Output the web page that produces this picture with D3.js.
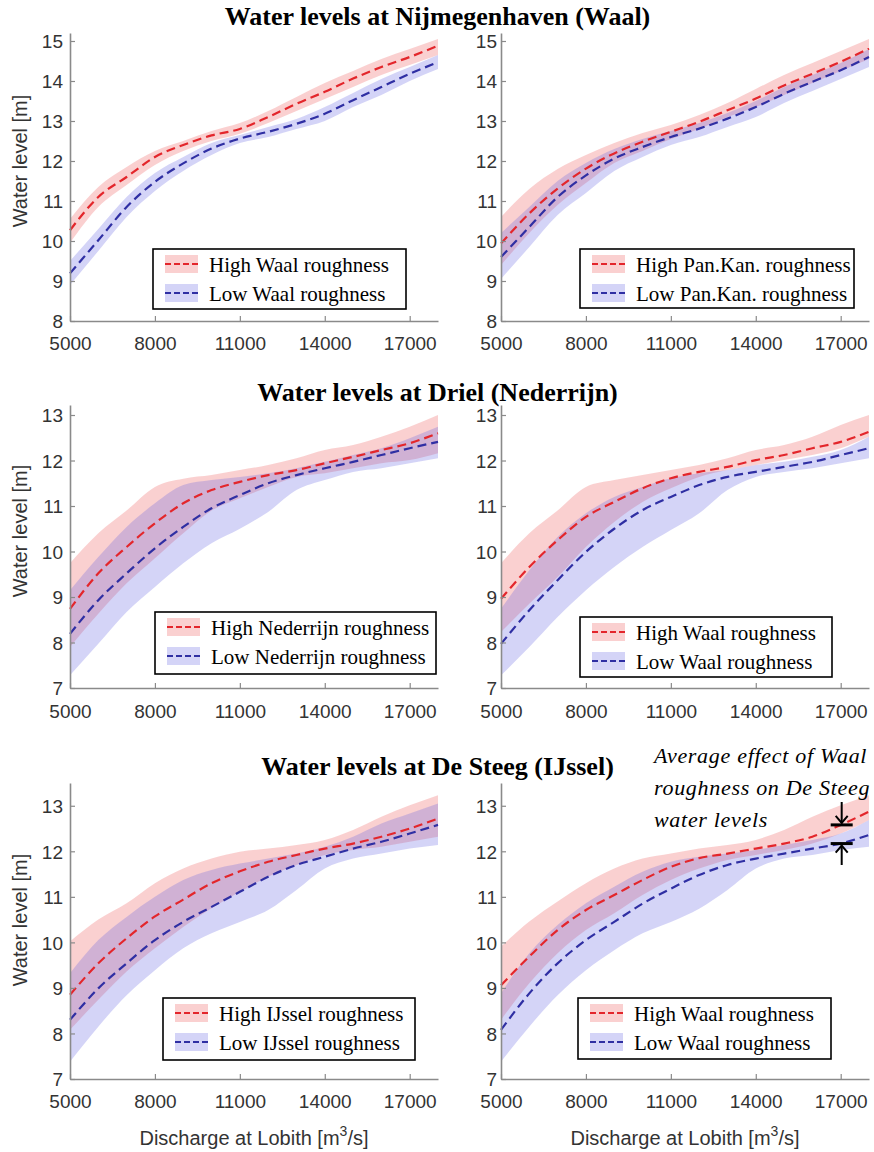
<!DOCTYPE html>
<html>
<head>
<meta charset="utf-8">
<script src="https://cdn.jsdelivr.net/npm/d3@7"></script>
<style>
  body { margin: 0; background: #fff; }
  svg text { font-family: "Liberation Sans", Arial, sans-serif; }
  .title { font-family: "Liberation Serif", "Times New Roman", serif; font-weight: bold; font-size: 26px; fill: #000; }
  .legend text { font-family: "Liberation Serif", "Times New Roman", serif; font-size: 21px; fill: #000; }
  .tick-label { font-size: 19px; fill: #333; }
  .axis-title { font-size: 20px; fill: #333; }
  .note { font-family: "Liberation Serif", "Times New Roman", serif; font-style: italic; font-size: 22px; letter-spacing: 0.7px; fill: #000; }
</style>
</head>
<body>
<div id="chart"></div>
<script>
// discharge values (x) and tick labels
var discharge = [5000, 6000, 7000, 8000, 9000, 10000, 11000, 12000, 13000, 14000, 15000, 16000, 17000, 18000];
var xTicks = [5000, 8000, 11000, 14000, 17000];

// Nijmegenhaven - Waal roughness
var nijWaalHigh    = [10.27, 11.1, 11.6, 12.1, 12.4, 12.64, 12.8, 13.1, 13.43, 13.73, 14.06, 14.35, 14.6, 14.88];
var nijWaalHighUp  = [10.55, 11.35, 11.85, 12.25, 12.5, 12.75, 12.95, 13.25, 13.6, 13.95, 14.25, 14.55, 14.8, 15.05];
var nijWaalHighLo  = [9.95, 10.85, 11.4, 11.9, 12.25, 12.5, 12.68, 12.95, 13.25, 13.55, 13.85, 14.15, 14.4, 14.65];
var nijWaalLow     = [9.19, 10.02, 10.85, 11.48, 11.94, 12.31, 12.56, 12.73, 12.93, 13.18, 13.52, 13.85, 14.18, 14.47];
var nijWaalLowUp   = [9.5, 10.3, 11.1, 11.7, 12.1, 12.45, 12.65, 12.85, 13.05, 13.35, 13.7, 14.05, 14.35, 14.65];
var nijWaalLowLo   = [8.9, 9.75, 10.6, 11.25, 11.75, 12.15, 12.45, 12.6, 12.8, 13.0, 13.35, 13.65, 14.0, 14.3];

// Nijmegenhaven - Pannerdensch Kanaal roughness
var nijPanHigh     = [9.94, 10.69, 11.31, 11.81, 12.19, 12.48, 12.73, 12.98, 13.27, 13.56, 13.89, 14.18, 14.48, 14.81];
var nijPanHighUp   = [10.6, 11.3, 11.8, 12.15, 12.45, 12.7, 12.9, 13.15, 13.45, 13.8, 14.15, 14.45, 14.75, 15.05];
var nijPanHighLo   = [9.4, 10.2, 10.9, 11.45, 11.95, 12.25, 12.55, 12.8, 13.1, 13.35, 13.65, 13.95, 14.25, 14.55];
var nijPanLow      = [9.6, 10.35, 11.1, 11.64, 12.06, 12.35, 12.6, 12.81, 13.06, 13.35, 13.68, 13.98, 14.27, 14.6];
var nijPanLowUp    = [10.2, 10.85, 11.5, 11.95, 12.3, 12.55, 12.75, 12.95, 13.2, 13.5, 13.85, 14.15, 14.45, 14.8];
var nijPanLowLo    = [9.05, 9.85, 10.65, 11.2, 11.75, 12.1, 12.4, 12.6, 12.85, 13.1, 13.45, 13.75, 14.05, 14.35];

// Driel - Nederrijn roughness
var drNedHigh      = [8.74, 9.52, 10.1, 10.62, 11.06, 11.35, 11.53, 11.68, 11.79, 11.94, 12.08, 12.23, 12.38, 12.6];
var drNedHighUp    = [9.74, 10.4, 10.9, 11.42, 11.6, 11.68, 11.79, 11.9, 12.05, 12.23, 12.34, 12.52, 12.74, 13.0];
var drNedHighLo    = [7.9, 8.63, 9.3, 9.85, 10.4, 10.9, 11.17, 11.42, 11.64, 11.72, 11.83, 11.94, 12.01, 12.16];
var drNedLow       = [8.19, 8.93, 9.52, 10.07, 10.54, 10.95, 11.24, 11.5, 11.68, 11.83, 11.97, 12.12, 12.27, 12.41];
var drNedLowUp     = [9.15, 9.88, 10.54, 11.06, 11.46, 11.57, 11.64, 11.72, 11.83, 11.97, 12.12, 12.27, 12.49, 12.74];
var drNedLowLo     = [7.28, 7.97, 8.67, 9.22, 9.74, 10.18, 10.5, 10.87, 11.35, 11.57, 11.75, 11.83, 11.94, 12.05];

// Driel - Waal roughness
var drWaalHigh     = [8.96, 9.66, 10.25, 10.76, 11.09, 11.39, 11.61, 11.75, 11.86, 12.01, 12.12, 12.27, 12.41, 12.63];
var drWaalHighUp   = [9.74, 10.4, 10.9, 11.42, 11.57, 11.68, 11.79, 11.9, 12.05, 12.23, 12.34, 12.52, 12.78, 13.0];
var drWaalHighLo   = [8.23, 8.85, 9.44, 10.1, 10.65, 11.09, 11.39, 11.64, 11.79, 11.9, 12.01, 12.12, 12.27, 12.52];
var drWaalLow      = [7.97, 8.71, 9.37, 9.99, 10.5, 10.91, 11.2, 11.46, 11.64, 11.75, 11.86, 11.97, 12.12, 12.27];
var drWaalLowUp    = [8.74, 9.59, 10.32, 10.84, 11.2, 11.42, 11.61, 11.72, 11.79, 11.9, 11.97, 12.08, 12.23, 12.52];
var drWaalLowLo    = [7.28, 7.9, 8.56, 9.15, 9.66, 10.1, 10.47, 10.84, 11.35, 11.64, 11.75, 11.83, 11.94, 12.05];

// De Steeg - IJssel roughness
var dsIjsHigh      = [8.85, 9.54, 10.09, 10.57, 10.94, 11.3, 11.56, 11.77, 11.92, 12.06, 12.17, 12.32, 12.5, 12.72];
var dsIjsHighUp    = [10.02, 10.5, 10.86, 11.3, 11.62, 11.84, 11.99, 12.06, 12.14, 12.25, 12.47, 12.76, 13.01, 13.23];
var dsIjsHighLo    = [8.08, 8.74, 9.36, 9.87, 10.34, 10.75, 11.11, 11.44, 11.7, 11.92, 12.03, 12.1, 12.21, 12.32];
var dsIjsLow       = [8.3, 8.99, 9.54, 10.05, 10.45, 10.78, 11.11, 11.44, 11.7, 11.88, 12.06, 12.21, 12.39, 12.58];
var dsIjsLowUp     = [9.32, 10.05, 10.56, 11.0, 11.37, 11.59, 11.73, 11.84, 11.95, 12.1, 12.32, 12.61, 12.83, 13.05];
var dsIjsLowLo     = [7.38, 8.15, 8.84, 9.39, 9.87, 10.2, 10.45, 10.71, 11.15, 11.62, 11.84, 11.95, 12.06, 12.14];

// De Steeg - Waal roughness
var dsWaalHigh     = [9.06, 9.69, 10.27, 10.71, 11.04, 11.37, 11.66, 11.85, 11.95, 12.06, 12.17, 12.32, 12.58, 12.87];
var dsWaalHighUp   = [9.91, 10.46, 10.9, 11.3, 11.62, 11.84, 11.95, 12.06, 12.14, 12.25, 12.47, 12.76, 13.01, 13.23];
var dsWaalHighLo   = [8.3, 9.1, 9.76, 10.27, 10.64, 11.04, 11.37, 11.62, 11.81, 11.92, 12.03, 12.17, 12.39, 12.69];
var dsWaalLow      = [8.08, 8.88, 9.54, 10.05, 10.45, 10.85, 11.18, 11.48, 11.7, 11.84, 11.95, 12.06, 12.17, 12.36];
var dsWaalLowUp    = [8.88, 9.76, 10.38, 10.86, 11.22, 11.55, 11.77, 11.88, 11.95, 12.03, 12.14, 12.25, 12.39, 12.69];
var dsWaalLowLo    = [7.38, 8.15, 8.84, 9.39, 9.83, 10.2, 10.45, 10.74, 11.15, 11.62, 11.84, 11.92, 12.03, 12.1];

var titles = ["Water levels at Nijmegenhaven (Waal)", "Water levels at Driel (Nederrijn)", "Water levels at De Steeg (IJssel)"];

var svgWidth = 874;
var svgHeight = 1152;

var svg = d3.select("#chart")
  .append("svg")
  .attr("width", svgWidth)
  .attr("height", svgHeight);

// row / column geometry
var rows = [
  { top: 33, bottom: 321, domain: [8, 15.2], yTicks: [8, 9, 10, 11, 12, 13, 14, 15], titleY: 25, tickY: 350 },
  { top: 405, bottom: 688, domain: [7, 13.22], yTicks: [7, 8, 9, 10, 11, 12, 13], titleY: 401, tickY: 718 },
  { top: 783, bottom: 1079, domain: [7, 13.5], yTicks: [7, 8, 9, 10, 11, 12, 13], titleY: 775, tickY: 1108 }
];
var cols = [
  { left: 70, right: 438, gap: 7 },
  { left: 501, right: 869, gap: 4 }
];

var panels = [
  { row: 0, col: 0, high: [nijWaalHigh, nijWaalHighLo, nijWaalHighUp], low: [nijWaalLow, nijWaalLowLo, nijWaalLowUp],
    names: ["High Waal roughness", "Low Waal roughness"], legend: { x: 153, y: 249, w: 253, h: 60 } },
  { row: 0, col: 1, high: [nijPanHigh, nijPanHighLo, nijPanHighUp], low: [nijPanLow, nijPanLowLo, nijPanLowUp],
    names: ["High Pan.Kan. roughness", "Low Pan.Kan. roughness"], legend: { x: 580, y: 249, w: 274, h: 59 } },
  { row: 1, col: 0, high: [drNedHigh, drNedHighLo, drNedHighUp], low: [drNedLow, drNedLowLo, drNedLowUp],
    names: ["High Nederrijn roughness", "Low Nederrijn roughness"], legend: { x: 155, y: 612, w: 281, h: 62 } },
  { row: 1, col: 1, high: [drWaalHigh, drWaalHighLo, drWaalHighUp], low: [drWaalLow, drWaalLowLo, drWaalLowUp],
    names: ["High Waal roughness", "Low Waal roughness"], legend: { x: 580, y: 617, w: 252, h: 60 } },
  { row: 2, col: 0, high: [dsIjsHigh, dsIjsHighLo, dsIjsHighUp], low: [dsIjsLow, dsIjsLowLo, dsIjsLowUp],
    names: ["High IJssel roughness", "Low IJssel roughness"], legend: { x: 163, y: 998, w: 252, h: 62 } },
  { row: 2, col: 1, high: [dsWaalHigh, dsWaalHighLo, dsWaalHighUp], low: [dsWaalLow, dsWaalLowLo, dsWaalLowUp],
    names: ["High Waal roughness", "Low Waal roughness"], legend: { x: 578, y: 998, w: 253, h: 61 } }
];

var redLine = "#e3262b";
var blueLine = "#2f2fa3";
var redFill = "rgb(240,100,100)";
var blueFill = "rgb(95,95,225)";

// titles
titles.forEach(function(t, i) {
  svg.append("text")
    .attr("class", "title")
    .attr("x", 437.5)
    .attr("y", rows[i].titleY)
    .attr("text-anchor", "middle")
    .text(t);
});

var scales = [];

panels.forEach(function(p, idx) {
  var r = rows[p.row];
  var c = cols[p.col];
  var x = d3.scaleLinear().domain([5000, 18000]).range([c.left, c.right]);
  var y = d3.scaleLinear().domain(r.domain).range([r.bottom, r.top]);
  scales.push({ x: x, y: y });

  var g = svg.append("g");

  var area = d3.area()
    .x(function(d, i) { return x(discharge[i]); })
    .y0(function(d) { return y(d[0]); })
    .y1(function(d) { return y(d[1]); })
    .curve(d3.curveMonotoneX);
  var line = d3.line()
    .x(function(d, i) { return x(discharge[i]); })
    .y(function(d) { return y(d); })
    .curve(d3.curveMonotoneX);

  // bands
  g.append("path")
    .attr("d", area(d3.zip(p.high[1], p.high[2])))
    .attr("fill", redFill)
    .attr("fill-opacity", 0.3);
  g.append("path")
    .attr("d", area(d3.zip(p.low[1], p.low[2])))
    .attr("fill", blueFill)
    .attr("fill-opacity", 0.27);

  // dashed mean lines
  g.append("path")
    .attr("d", line(p.high[0]))
    .attr("fill", "none")
    .attr("stroke", redLine)
    .attr("stroke-width", 2.2)
    .attr("stroke-dasharray", "9,5");
  g.append("path")
    .attr("d", line(p.low[0]))
    .attr("fill", "none")
    .attr("stroke", blueLine)
    .attr("stroke-width", 2.2)
    .attr("stroke-dasharray", "9,5");

  // axes (matlab style: ticks inward, only left and bottom)
  var bottomAxis = d3.axisBottom(x).tickValues(xTicks).tickSizeInner(-5).tickSizeOuter(0).tickFormat(d3.format("d"));
  var leftAxis = d3.axisLeft(y).tickValues(r.yTicks).tickSizeInner(-5).tickSizeOuter(0).tickFormat(d3.format("d"));

  var xa = g.append("g")
    .attr("transform", "translate(0," + r.bottom + ")")
    .call(bottomAxis);
  var ya = g.append("g")
    .attr("transform", "translate(" + c.left + ",0)")
    .call(leftAxis);

  [xa, ya].forEach(function(a) {
    a.select(".domain").attr("stroke", "#8a8a8a").attr("stroke-width", 1.6);
    a.selectAll(".tick line").attr("stroke", "#8a8a8a").attr("stroke-width", 1.2);
    a.selectAll(".tick text").attr("class", "tick-label").attr("font-family", null).attr("font-size", null).attr("fill", null);
  });
  xa.selectAll(".tick text").attr("y", r.tickY - r.bottom).attr("dy", 0);
  ya.selectAll(".tick text").attr("x", -c.gap).attr("dy", "0.36em");

  // y label on left column only
  if (p.col === 0) {
    var cy = [161, 531, 920][p.row];
    svg.append("text")
      .attr("class", "axis-title")
      .attr("transform", "translate(27," + cy + ") rotate(-90)")
      .attr("text-anchor", "middle")
      .text("Water level [m]");
  }

  // x label on bottom row
  if (p.row === 2) {
    var xt = svg.append("text")
      .attr("class", "axis-title")
      .attr("x", (c.left + c.right) / 2)
      .attr("y", 1145)
      .attr("text-anchor", "middle");
    xt.append("tspan").text("Discharge at Lobith [m");
    xt.append("tspan").attr("dy", -9).attr("font-size", 14).text("3");
    xt.append("tspan").attr("dy", 9).text("/s]");
  }

  // legend
  var L = p.legend;
  var lg = svg.append("g").attr("class", "legend").attr("transform", "translate(" + L.x + "," + L.y + ")");
  lg.append("rect")
    .attr("width", L.w)
    .attr("height", L.h)
    .attr("fill", "#fff")
    .attr("stroke", "#000")
    .attr("stroke-width", 1.6);
  var entries = [
    { name: p.names[0], fill: redFill, op: 0.3, stroke: redLine },
    { name: p.names[1], fill: blueFill, op: 0.27, stroke: blueLine }
  ];
  entries.forEach(function(e, i) {
    var top = i === 0 ? 6 : 35;
    lg.append("rect")
      .attr("x", 12).attr("y", top)
      .attr("width", 33).attr("height", 18)
      .attr("fill", e.fill).attr("fill-opacity", e.op);
    lg.append("line")
      .attr("x1", 12).attr("x2", 45)
      .attr("y1", top + 9).attr("y2", top + 9)
      .attr("stroke", e.stroke).attr("stroke-width", 2)
      .attr("stroke-dasharray", "6,3");
    lg.append("text")
      .attr("x", 56)
      .attr("y", top + 17)
      .text(e.name);
  });
});

// annotation on last panel
var s = scales[5];
var ax = s.x(17000) + 1;
var yHigh = s.y(dsWaalHigh[12]);
var yLow = s.y(dsWaalLow[12]);

var noteLines = ["Average effect of Waal", "roughness on De Steeg", "water levels"];
noteLines.forEach(function(t, i) {
  svg.append("text")
    .attr("class", "note")
    .attr("x", 654)
    .attr("y", 763 + i * 32)
    .text(t);
});

var ann = svg.append("g").attr("stroke", "#000").attr("stroke-width", 3).attr("fill", "none");
ann.append("line").attr("x1", ax - 11).attr("x2", ax + 11).attr("y1", yHigh).attr("y2", yHigh);
ann.append("line").attr("x1", ax - 11).attr("x2", ax + 11).attr("y1", yLow).attr("y2", yLow);
ann.append("line").attr("x1", ax).attr("x2", ax).attr("y1", 802).attr("y2", yHigh - 2).attr("stroke-width", 2);
ann.append("path").attr("d", "M" + (ax - 6) + "," + (yHigh - 9) + "L" + ax + "," + (yHigh - 2) + "L" + (ax + 6) + "," + (yHigh - 9)).attr("stroke-width", 2);
ann.append("line").attr("x1", ax).attr("x2", ax).attr("y1", 865).attr("y2", yLow + 2).attr("stroke-width", 2);
ann.append("path").attr("d", "M" + (ax - 6) + "," + (yLow + 9) + "L" + ax + "," + (yLow + 2) + "L" + (ax + 6) + "," + (yLow + 9)).attr("stroke-width", 2);
</script>
</body>
</html>
